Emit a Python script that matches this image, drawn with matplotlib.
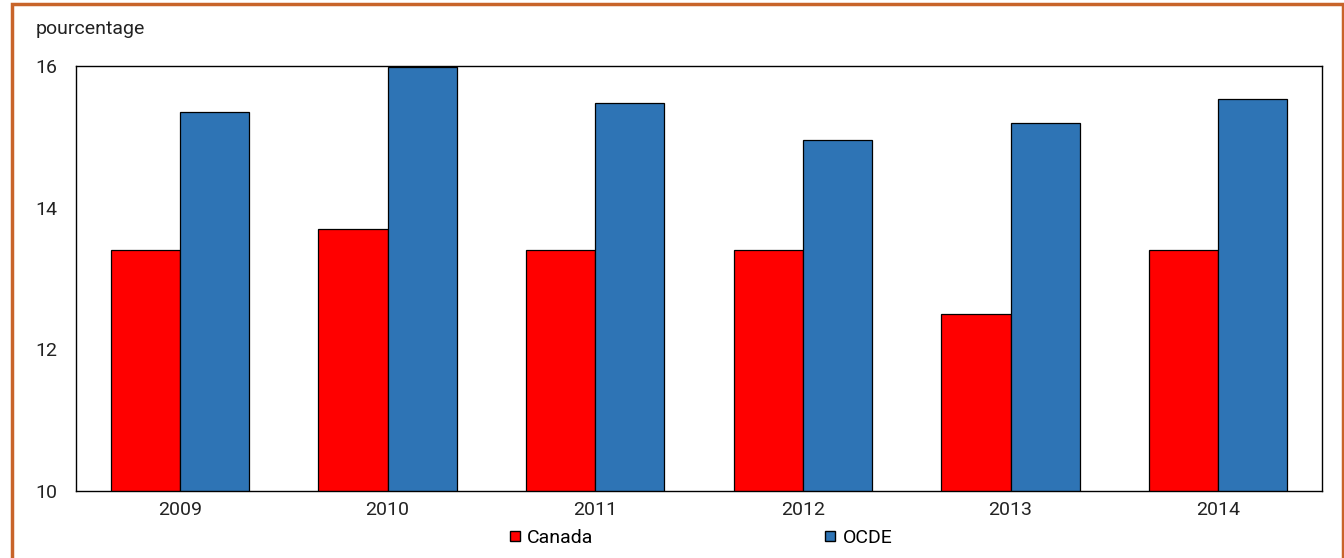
import matplotlib
matplotlib.use("Agg")
from matplotlib import pyplot as plt
from matplotlib.patches import Rectangle
from matplotlib.lines import Line2D
import numpy as np

plt.rcParams['font.family'] = ['Roboto', 'DejaVu Sans']

years = ['2009', '2010', '2011', '2012', '2013', '2014']
canada = [13.4, 13.7, 13.4, 13.4, 12.5, 13.4]
ocde = [15.35, 15.98, 15.48, 14.95, 15.2, 15.53]

red = '#ff0000'
blue = '#2e74b5'

fig = plt.figure(figsize=(13.44, 5.58), dpi=100)
ax = fig.add_axes([76/1344, 1 - 491/558, (1322 - 76)/1344, (491 - 66)/558])

x = np.arange(len(years))
w = 0.333
ax.bar(x - w/2, canada, w, color=red, edgecolor='black', linewidth=0.9, label='Canada')
ax.bar(x + w/2, ocde, w, color=blue, edgecolor='black', linewidth=0.9, label='OCDE')

ax.set_xlim(-0.5, 5.5)
ax.set_ylim(10, 16)
ax.set_yticks([10, 12, 14, 16])
ax.set_xticks(x)
ax.set_xticklabels(years)
ax.tick_params(length=0, labelsize=14, colors='#222222')
ax.tick_params(axis='y', pad=29)
for lab in ax.get_yticklabels():
    lab.set_horizontalalignment('left')
ax.tick_params(axis='x', pad=7)
for s in ax.spines.values():
    s.set_linewidth(1.0)

fig.text(36/1344, 1 - 29/558, 'pourcentage', fontsize=14, color='#222222', va='center')

handles = [
    Line2D([], [], marker='s', linestyle='none', markersize=7.5, markerfacecolor=red, markeredgecolor='black'),
    Line2D([], [], marker='s', linestyle='none', markersize=7.5, markerfacecolor=blue, markeredgecolor='black'),
]
fig.legend(handles, ['Canada', 'OCDE'], loc='center', bbox_to_anchor=(700/1344, 1 - 538/558),
           ncol=2, frameon=False, fontsize=14, handletextpad=0.3, columnspacing=11.8,
           handlelength=0.7)

fig.patches.append(Rectangle((12/1344, -0.1), (1343 - 12)/1344, 1.1 - 4.5/558, transform=fig.transFigure,
                             fill=False, edgecolor='#c8642a', linewidth=2.5, clip_on=False))

fig.savefig('out.png', dpi=100)
